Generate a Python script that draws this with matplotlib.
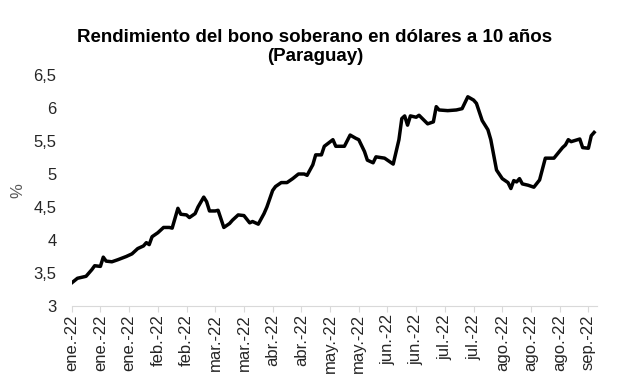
import pandas as pd
import numpy as np
import matplotlib
matplotlib.use("Agg")
import matplotlib.pyplot as plt

# business-day index (0 = 3 ene 2022) and 10y USD bond yield
day_idx = [0, 2, 5, 7, 8, 10, 11, 12, 14, 16, 19, 21, 23, 25, 26, 27, 28, 30, 32, 34,
           35, 37, 38, 40, 41, 43, 44, 46, 47, 48, 50, 51, 53, 55, 56, 58, 60, 62, 63, 65,
           67, 68, 70, 71, 73, 75, 77, 79, 81, 82, 84, 85, 87, 88, 91, 92, 95, 97, 99, 100,
           102, 103, 105, 106, 109, 110, 112, 114, 115, 116, 117, 118, 120, 121, 124, 126, 127, 128, 131, 134,
           136, 138, 140, 141, 143, 145, 146, 148, 150, 152, 153, 154, 155, 156, 157, 159, 161, 163, 165, 168,
           171, 172, 173, 174, 177, 178, 180, 181, 182]
yield_pct = [3.35, 3.42, 3.45, 3.55, 3.61, 3.60, 3.74, 3.68, 3.67, 3.70, 3.75, 3.79, 3.87, 3.91, 3.96, 3.93, 4.05, 4.11, 4.19, 4.19,
             4.18, 4.48, 4.39, 4.38, 4.34, 4.40, 4.50, 4.65, 4.58, 4.44, 4.44, 4.45, 4.19, 4.25, 4.30, 4.38, 4.37, 4.26, 4.28, 4.24,
             4.40, 4.50, 4.75, 4.81, 4.87, 4.87, 4.93, 5.00, 5.00, 4.98, 5.14, 5.29, 5.29, 5.42, 5.52, 5.42, 5.42, 5.59, 5.54, 5.52,
             5.34, 5.21, 5.17, 5.26, 5.24, 5.21, 5.15, 5.52, 5.84, 5.88, 5.74, 5.88, 5.86, 5.89, 5.76, 5.79, 6.02, 5.97, 5.96, 5.97,
             5.99, 6.17, 6.12, 6.07, 5.81, 5.67, 5.52, 5.06, 4.93, 4.87, 4.78, 4.90, 4.88, 4.93, 4.85, 4.83, 4.80, 4.91, 5.24, 5.24,
             5.40, 5.44, 5.52, 5.49, 5.53, 5.40, 5.39, 5.58, 5.63]

meses = ["ene", "feb", "mar", "abr", "may", "jun", "jul", "ago", "sep", "oct", "nov", "dic"]
fechas = pd.bdate_range("2022-01-03", periods=183)
tick_pos = list(range(0, 183, 10))
tick_lbl = [meses[fechas[i].month - 1] + ".-" + fechas[i].strftime("%y") for i in tick_pos]

plt.rcParams["font.family"] = ["Liberation Sans", "DejaVu Sans"]

fig = plt.figure(figsize=(6.17, 3.85), dpi=100)
ax = fig.add_axes([71.7 / 617, 1 - 306 / 385, (597 - 71.7) / 617, (306 - 75) / 385])

ax.plot(day_idx, yield_pct, color="black", lw=2.5, solid_joinstyle="round")

ax.set_xlim(0, 183)
ax.set_ylim(3, 6.5)
yt = np.arange(3, 6.51, 0.5)
ax.set_yticks(yt)
ax.set_yticklabels([("%g" % v).replace(".", ",") for v in yt], fontsize=12, color="#262626")
ax.set_xticks(tick_pos)
ax.set_xticklabels(tick_lbl, rotation=90, fontsize=12, color="#262626")

for s in ["top", "right", "left"]:
    ax.spines[s].set_visible(False)
ax.spines["bottom"].set_color("#d9d9d9")
ax.tick_params(axis="y", length=0, pad=11)
ax.tick_params(axis="x", length=4, color="#d9d9d9", pad=2)

fig.text(17.5 / 617, 1 - 191 / 385, "%", rotation=90, fontsize=12, color="#595959",
         ha="center", va="center")
fig.text(315 / 617, 1 - 47 / 385, "Rendimiento del bono soberano en dólares a 10 años\n(Paraguay)",
         ha="center", va="center", fontsize=13.5, fontweight="bold", linespacing=1.2)

fig.savefig("out.png", dpi=100)
